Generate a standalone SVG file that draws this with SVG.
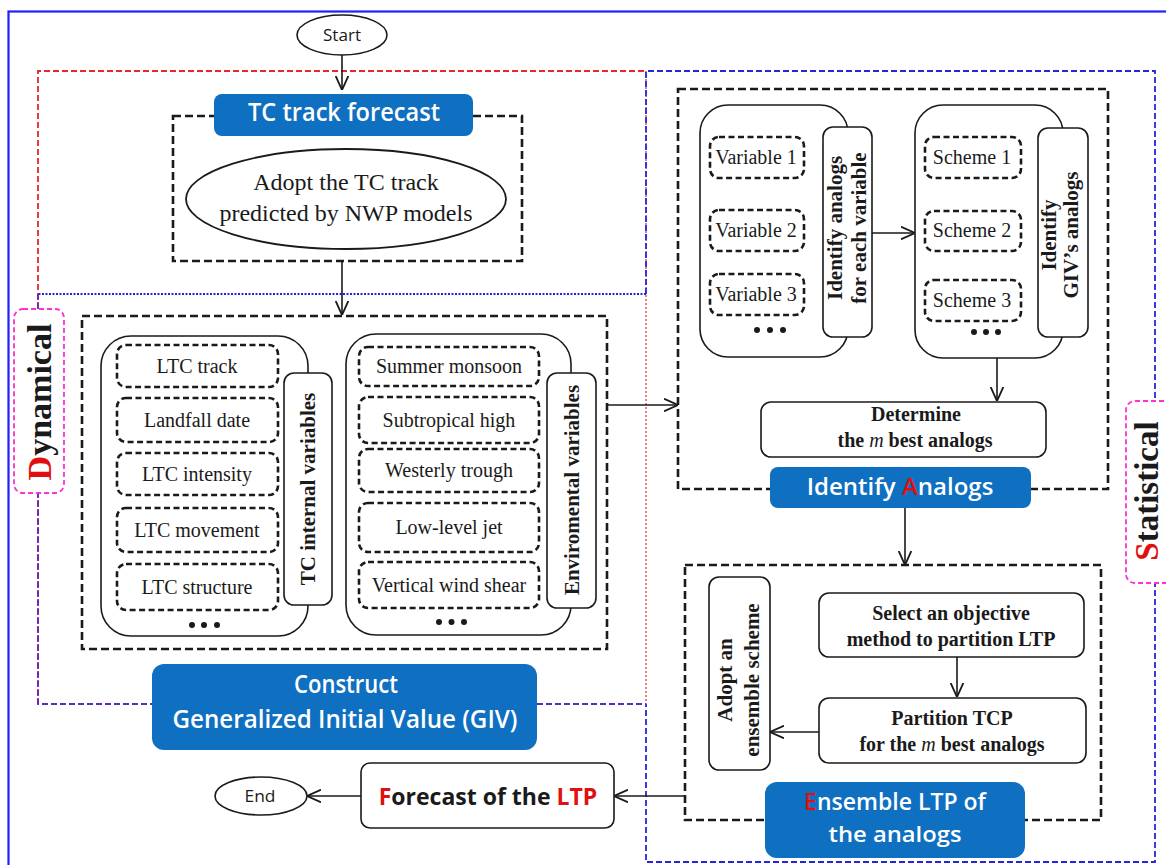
<svg xmlns="http://www.w3.org/2000/svg" width="1166" height="865" viewBox="0 0 1166 865">
<defs>
<marker id="arr" viewBox="0 0 10 10" refX="10" refY="5" markerWidth="14" markerHeight="14" markerUnits="userSpaceOnUse" orient="auto">
<path d="M0,0.5 L10,5 L0,9.5" fill="none" stroke="#1a1a1a" stroke-width="1.3"/>
</marker>
<style>
.dash{fill:none;stroke:#1a1a1a;stroke-width:2.6;stroke-dasharray:8 4}
.sbox{fill:#fff;stroke:#1a1a1a;stroke-width:2.6;stroke-dasharray:6 3.5}
.panel{fill:#fff;stroke:#1a1a1a;stroke-width:1.6}
.vbox{fill:#fff;stroke:#1a1a1a;stroke-width:1.6}
.blue{fill:#0F6FC0}
.serif{font-family:"Liberation Serif",serif;fill:#1a1a1a}
.t20{font-size:20px;text-anchor:middle}
.b20{font-size:20px;font-weight:bold;text-anchor:middle}
.bv{font-size:21px;font-weight:bold;text-anchor:middle}
.wt{font-family:"Open Sans",sans-serif;font-weight:600;fill:#fff;text-anchor:middle}
.sans{font-family:"Open Sans",sans-serif;fill:#1a1a1a;text-anchor:middle}
.red{fill:#E01010}
.conn{fill:none;stroke:#1a1a1a;stroke-width:1.6;marker-end:url(#arr)}
.dot{fill:#1a1a1a}
</style>
</defs>
<rect width="1166" height="865" fill="#fff"/>
<rect x="8.5" y="11.5" width="1200" height="900" fill="none" stroke="#1f1fff" stroke-width="2.2"/>

<g id="frames">
<path d="M38,704 L38,71 L646,71" fill="none" stroke="#E8262E" stroke-width="1.8" stroke-dasharray="6 3"/>
<path d="M646,71 V704" fill="none" stroke="#F0505A" stroke-width="1.5" stroke-dasharray="2 2"/>
<path d="M646,294 V71 H1155 V862 H646 V704" fill="none" stroke="#2525DD" stroke-width="1.8" stroke-dasharray="6 3"/>
<path d="M646,294 H38" fill="none" stroke="#2525DD" stroke-width="1.8" stroke-dasharray="2 1.5"/>
<path d="M38,294 V704 H646" fill="none" stroke="#5A2AC8" stroke-width="1.8" stroke-dasharray="6 3"/>
</g>

<g id="dynamical-label">
<rect x="14" y="309" width="50" height="184" rx="9" fill="#fff" stroke="#FF2FD0" stroke-width="1.8" stroke-dasharray="5 3"/>
<text class="serif" transform="translate(51,402) rotate(-90)" font-size="34" font-weight="bold" text-anchor="middle"><tspan class="red">D</tspan>ynamical</text>
</g>
<g id="statistical-label">
<rect x="1126" y="401" width="70" height="182" rx="9" fill="#fff" stroke="#FF2FD0" stroke-width="1.8" stroke-dasharray="5 3"/>
<text class="serif" transform="translate(1158,491) rotate(-90)" font-size="33" font-weight="bold" text-anchor="middle"><tspan class="red">S</tspan>tatistical</text>
</g>

<g id="start">
<ellipse cx="342" cy="35" rx="45" ry="20" fill="#fff" stroke="#1a1a1a" stroke-width="1.6"/>
<text class="sans" x="342" y="41" font-size="17" textLength="38" lengthAdjust="spacingAndGlyphs">Start</text>
</g>

<g id="tc-track">
<rect class="dash" x="173" y="116" width="349" height="145"/>
<ellipse cx="346" cy="199" rx="160" ry="50" fill="#fff" stroke="#1a1a1a" stroke-width="1.8"/>
<text class="serif" x="346" y="190" font-size="24" text-anchor="middle">Adopt the TC track</text>
<text class="serif" x="346" y="221" font-size="24" text-anchor="middle">predicted by NWP models</text>
<rect class="blue" x="214" y="94" width="259" height="42" rx="8"/>
<text class="wt" x="344" y="121" font-size="25" textLength="192" lengthAdjust="spacingAndGlyphs">TC track forecast</text>
</g>

<g id="giv">
<rect class="dash" x="82" y="316" width="525" height="333"/>
<rect class="panel" x="101" y="336" width="207" height="300" rx="30"/>
<rect class="vbox" x="284" y="373" width="48" height="232" rx="10"/>
<text class="serif bv" transform="translate(315,489) rotate(-90)" font-size="22">TC internal variables</text>
<rect class="sbox" x="117" y="345" width="161" height="42" rx="9"/>
<rect class="sbox" x="117" y="398" width="161" height="44" rx="9"/>
<rect class="sbox" x="117" y="453" width="161" height="42" rx="9"/>
<rect class="sbox" x="117" y="508" width="161" height="44" rx="9"/>
<rect class="sbox" x="117" y="564" width="161" height="46" rx="9"/>
<text class="serif t20" x="197" y="373">LTC track</text>
<text class="serif t20" x="197" y="427">Landfall date</text>
<text class="serif t20" x="197" y="481">LTC intensity</text>
<text class="serif t20" x="197" y="537">LTC movement</text>
<text class="serif t20" x="197" y="594">LTC structure</text>
<circle class="dot" cx="192" cy="625" r="3"/><circle class="dot" cx="204" cy="625" r="3"/><circle class="dot" cx="217" cy="625" r="3"/>

<rect class="panel" x="346" y="334" width="225" height="301" rx="30"/>
<rect class="vbox" x="547" y="373" width="49" height="235" rx="10"/>
<text class="serif bv" transform="translate(579,490) rotate(-90)">Enviromental variables</text>
<rect class="sbox" x="359" y="347" width="180" height="39" rx="9"/>
<rect class="sbox" x="359" y="397" width="180" height="46" rx="9"/>
<rect class="sbox" x="359" y="449" width="180" height="43" rx="9"/>
<rect class="sbox" x="359" y="503" width="180" height="49" rx="9"/>
<rect class="sbox" x="359" y="562" width="180" height="46" rx="9"/>
<text class="serif t20" x="449" y="373">Summer monsoon</text>
<text class="serif t20" x="449" y="427">Subtropical high</text>
<text class="serif t20" x="449" y="477">Westerly trough</text>
<text class="serif t20" x="449" y="534">Low-level jet</text>
<text class="serif t20" x="449" y="592">Vertical wind shear</text>
<circle class="dot" cx="439" cy="622" r="3"/><circle class="dot" cx="451.5" cy="622" r="3"/><circle class="dot" cx="464" cy="622" r="3"/>
</g>

<g id="construct-giv">
<rect class="blue" x="152" y="664" width="385" height="86" rx="12"/>
<text class="wt" x="346" y="693" font-size="25" textLength="104" lengthAdjust="spacingAndGlyphs">Construct</text>
<text class="wt" x="345" y="728" font-size="25" textLength="345" lengthAdjust="spacingAndGlyphs">Generalized Initial Value (GIV)</text>
</g>

<g id="identify-analogs">
<rect class="dash" x="678" y="89" width="430" height="400"/>
<rect class="panel" x="700" y="105" width="148" height="252" rx="28"/>
<rect class="vbox" x="823" y="127" width="49" height="210" rx="10"/>
<text class="serif bv" transform="translate(842,228) rotate(-90)">Identify analogs</text>
<text class="serif bv" transform="translate(866,228) rotate(-90)">for each variable</text>
<rect class="sbox" x="710" y="137" width="94" height="41" rx="9"/>
<rect class="sbox" x="710" y="210" width="94" height="41" rx="9"/>
<rect class="sbox" x="710" y="274" width="94" height="41" rx="9"/>
<text class="serif t20" x="756" y="164">Variable 1</text>
<text class="serif t20" x="756" y="237">Variable 2</text>
<text class="serif t20" x="756" y="301">Variable 3</text>
<circle class="dot" cx="757" cy="330" r="3"/><circle class="dot" cx="770" cy="330" r="3"/><circle class="dot" cx="783" cy="330" r="3"/>

<rect class="panel" x="915" y="105" width="148" height="253" rx="28"/>
<rect class="vbox" x="1038" y="128" width="50" height="209" rx="10"/>
<text class="serif bv" transform="translate(1056,235) rotate(-90)">Identify</text>
<text class="serif bv" transform="translate(1078,235) rotate(-90)">GIV’s analogs</text>
<rect class="sbox" x="925" y="137" width="96" height="41" rx="9"/>
<rect class="sbox" x="925" y="211" width="96" height="40" rx="9"/>
<rect class="sbox" x="925" y="280" width="96" height="41" rx="9"/>
<text class="serif t20" x="972" y="164">Scheme 1</text>
<text class="serif t20" x="972" y="237">Scheme 2</text>
<text class="serif t20" x="972" y="307">Scheme 3</text>
<circle class="dot" cx="974" cy="332" r="3"/><circle class="dot" cx="986" cy="332" r="3"/><circle class="dot" cx="998" cy="332" r="3"/>

<rect class="vbox" x="761" y="402" width="285" height="55" rx="10"/>
<text class="serif b20" x="916" y="421">Determine</text>
<text class="serif b20" x="915" y="447">the <tspan font-style="italic" font-weight="normal">m</tspan>  best analogs</text>

<rect class="blue" x="770" y="467" width="261" height="41" rx="8"/>
<text class="wt" x="900" y="495" font-size="24">Identify <tspan class="red">A</tspan>nalogs</text>
</g>

<g id="ensemble">
<rect class="dash" x="685" y="565" width="416" height="255"/>
<rect class="vbox" x="709" y="577" width="61" height="193" rx="10"/>
<text class="serif bv" transform="translate(732,680) rotate(-90)">Adopt an</text>
<text class="serif bv" transform="translate(759,680) rotate(-90)">ensemble scheme</text>
<rect class="vbox" x="819" y="593" width="265" height="64" rx="10"/>
<text class="serif b20" x="951" y="620">Select an objective</text>
<text class="serif b20" x="951" y="646">method to partition LTP</text>
<rect class="vbox" x="819" y="698" width="267" height="65" rx="10"/>
<text class="serif b20" x="952" y="725">Partition TCP</text>
<text class="serif b20" x="952" y="751">for the <tspan font-style="italic" font-weight="normal">m</tspan> best analogs</text>
<rect class="blue" x="765" y="782" width="260" height="76" rx="12"/>
<text class="wt" x="895" y="810" font-size="23"><tspan class="red">E</tspan>nsemble LTP of</text>
<text class="wt" x="895" y="842" font-size="22" textLength="133" lengthAdjust="spacingAndGlyphs">the analogs</text>
</g>

<g id="forecast">
<rect class="vbox" x="361" y="763" width="253" height="65" rx="9"/>
<text class="sans" x="488" y="805" font-size="23" font-weight="bold"><tspan class="red">F</tspan>orecast of the <tspan class="red">LTP</tspan></text>
</g>

<g id="end">
<ellipse cx="261" cy="796" rx="46" ry="19" fill="#fff" stroke="#1a1a1a" stroke-width="1.6"/>
<text class="sans" x="260" y="802" font-size="17" textLength="31" lengthAdjust="spacingAndGlyphs">End</text>
</g>

<g id="connectors">
<path class="conn" d="M342,55 V90"/>
<path class="conn" d="M342,261 V315"/>
<path class="conn" d="M607,405 H678"/>
<path class="conn" d="M872,233 H915"/>
<path class="conn" d="M997,358 V401"/>
<path class="conn" d="M905,508 V565"/>
<path class="conn" d="M957,657 V697"/>
<path class="conn" d="M819,732 H770"/>
<path class="conn" d="M685,796 H614"/>
<path class="conn" d="M361,796 H307"/>
</g>
</svg>
